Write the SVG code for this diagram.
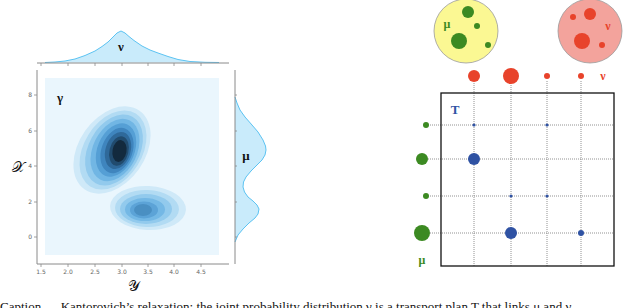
<svg xmlns="http://www.w3.org/2000/svg" width="640" height="308" viewBox="0 0 640 308">
<style>
.ax{stroke:#8a8a8a;stroke-width:1;fill:none}
.tk{stroke:#8a8a8a;stroke-width:0.8}
.tl{font-family:"DejaVu Sans",sans-serif;font-size:6px;fill:#666}
.marg{fill:#c9ebfb;stroke:#5cc3f2;stroke-width:1}
.lab{font-family:"Liberation Serif",serif;font-weight:bold;fill:#111}
.grid{stroke:#777;stroke-width:0.8;stroke-dasharray:1 1}
.g{fill:#3c8a22}
.r{fill:#e8432b}
.b{fill:#2f52a3}
.cap{font-family:"Liberation Serif",serif;font-size:13px;fill:#111}
</style>
<g id="left-plot">
  <g id="top-marginal">
    <path class="marg" d="M45,62.5 L55,62 L65,61 L75,59 L85,55.5 L95,51 L102,46.5 L108,42 L113,37 L117,33 L121,31 L125,33 L129,36.5 L134,40.5 L142,46 L150,50 L158,53 L168,56.5 L178,59.5 L190,61.5 L205,62.3 L219,62.5"/>
    <line class="ax" x1="37" y1="63" x2="229" y2="63"/>
    <g class="tk">
      <line x1="41" y1="63" x2="41" y2="66"/><line x1="68" y1="63" x2="68" y2="66"/><line x1="95" y1="63" x2="95" y2="66"/><line x1="122" y1="63" x2="122" y2="66"/><line x1="148" y1="63" x2="148" y2="66"/><line x1="174" y1="63" x2="174" y2="66"/><line x1="201" y1="63" x2="201" y2="66"/>
    </g>
    <text class="lab" x="121" y="51" font-size="13" text-anchor="middle">ν</text>
  </g>
  <g id="joint">
    <rect x="45" y="78" width="174" height="177" fill="#eaf6fd"/>
    <g id="blob-top">
      <ellipse cx="112" cy="150" rx="48" ry="33" transform="rotate(-55 112 150)" fill="#cfe9f8"/>
      <ellipse cx="113" cy="150" rx="43" ry="29" transform="rotate(-58 113 150)" fill="#b2dbf3"/>
      <ellipse cx="114" cy="150" rx="38" ry="25.5" transform="rotate(-61 114 150)" fill="#92caed"/>
      <ellipse cx="115" cy="150" rx="33" ry="22" transform="rotate(-64 115 150)" fill="#71b6e4"/>
      <ellipse cx="116" cy="150" rx="28" ry="18.5" transform="rotate(-67 116 150)" fill="#559fd5"/>
      <ellipse cx="117" cy="150.5" rx="23.5" ry="15.5" transform="rotate(-70 117 150.5)" fill="#3f85be"/>
      <ellipse cx="118" cy="150.5" rx="19" ry="12.5" transform="rotate(-73 118 150.5)" fill="#2f699a"/>
      <ellipse cx="119" cy="151" rx="15" ry="9.5" transform="rotate(-76 119 151)" fill="#214b6e"/>
      <ellipse cx="119.5" cy="151" rx="11" ry="7" transform="rotate(-80 119.5 151)" fill="#132a3e"/>
    </g>
    <g id="blob-bottom">
      <ellipse cx="148" cy="208" rx="38" ry="22" transform="rotate(3 148 208)" fill="#cfe9f8"/>
      <ellipse cx="147" cy="208.5" rx="32" ry="18.5" transform="rotate(2 147 208.5)" fill="#b2dbf3"/>
      <ellipse cx="146" cy="209" rx="26" ry="15" fill="#92caed"/>
      <ellipse cx="145" cy="209.5" rx="20" ry="11.5" fill="#74b8e5"/>
      <ellipse cx="144" cy="210" rx="14" ry="8.5" fill="#5ca3d7"/>
      <ellipse cx="143" cy="210" rx="9" ry="6" fill="#4a8fc2"/>
    </g>
    <text class="lab" x="60" y="102" font-size="13" text-anchor="middle">γ</text>
    <line class="ax" x1="37" y1="70" x2="37" y2="264"/>
    <line class="ax" x1="37" y1="264" x2="229" y2="264"/>
    <g class="tk">
      <line x1="34" y1="95" x2="37" y2="95"/><line x1="34" y1="131" x2="37" y2="131"/><line x1="34" y1="166" x2="37" y2="166"/><line x1="34" y1="202" x2="37" y2="202"/><line x1="34" y1="237" x2="37" y2="237"/>
      <line x1="41" y1="264" x2="41" y2="267"/><line x1="68" y1="264" x2="68" y2="267"/><line x1="95" y1="264" x2="95" y2="267"/><line x1="122" y1="264" x2="122" y2="267"/><line x1="148" y1="264" x2="148" y2="267"/><line x1="174" y1="264" x2="174" y2="267"/><line x1="201" y1="264" x2="201" y2="267"/>
    </g>
    <g class="tl" text-anchor="end">
      <text x="32" y="97">8</text><text x="32" y="133">6</text><text x="32" y="168">4</text><text x="32" y="204">2</text><text x="32" y="239">0</text>
    </g>
    <g class="tl" text-anchor="middle">
      <text x="41" y="274">1.5</text><text x="68" y="274">2.0</text><text x="95" y="274">2.5</text><text x="122" y="274">3.0</text><text x="148" y="274">3.5</text><text x="174" y="274">4.0</text><text x="201" y="274">4.5</text>
    </g>
    <text x="18" y="172" font-family="DejaVu Serif,serif" font-size="15" text-anchor="middle" fill="#111">𝒳</text>
    <text x="134" y="291" font-family="DejaVu Serif,serif" font-size="15" text-anchor="middle" fill="#111">𝒴</text>
  </g>
  <g id="right-marginal">
    <path class="marg" d="M235,97 L237,103 L240,110 L245,117 L252,125 L258,132 L263,140 L265.5,146 L266,150 L265,155 L262,160 L257,165 L251,171 L246,177 L243.5,182 L243,187 L244.5,192 L248,197 L253,201 L257,205 L259,209 L258,214 L255,218 L249,223 L243,229 L238,235 L235,242"/>
    <line class="ax" x1="235" y1="70" x2="235" y2="264"/>
    <g class="tk">
      <line x1="235" y1="95" x2="237" y2="95"/><line x1="235" y1="131" x2="237" y2="131"/><line x1="235" y1="166" x2="237" y2="166"/><line x1="235" y1="202" x2="237" y2="202"/><line x1="235" y1="237" x2="237" y2="237"/>
    </g>
    <text class="lab" x="246" y="160" font-size="13" text-anchor="middle">μ</text>
  </g>
</g>
<g id="mu-set">
  <circle cx="466" cy="31" r="32" fill="#fbf893" stroke="#9a9a9a" stroke-width="0.8"/>
  <circle class="g" cx="468" cy="12" r="6"/>
  <circle class="g" cx="477" cy="26" r="3"/>
  <circle class="g" cx="459" cy="41" r="8"/>
  <circle class="g" cx="488" cy="45" r="3"/>
  <text class="lab" x="447" y="28" font-size="12" text-anchor="middle" fill="#3c8a22" style="fill:#3c8a22">μ</text>
</g>
<g id="nu-set">
  <circle cx="590" cy="31" r="32" fill="#f3a39c" stroke="#9a9a9a" stroke-width="0.8"/>
  <circle class="r" cx="573" cy="17" r="3"/>
  <circle class="r" cx="590" cy="14" r="6"/>
  <circle class="r" cx="582" cy="41" r="8"/>
  <circle class="r" cx="602" cy="45" r="3"/>
  <text class="lab" x="608" y="30" font-size="12" text-anchor="middle" style="fill:#e8432b">ν</text>
</g>
<g id="connectors">
  <line class="grid" x1="474" y1="83" x2="474" y2="266"/>
  <line class="grid" x1="511" y1="85" x2="511" y2="266"/>
  <line class="grid" x1="547" y1="81" x2="547" y2="266"/>
  <line class="grid" x1="581" y1="81" x2="581" y2="266"/>
  <line class="grid" x1="430" y1="125" x2="614" y2="125"/>
  <line class="grid" x1="428" y1="159" x2="614" y2="159"/>
  <line class="grid" x1="430" y1="196" x2="614" y2="196"/>
  <line class="grid" x1="430" y1="233" x2="614" y2="233"/>
</g>
<g id="nu-row">
  <circle class="r" cx="474" cy="76" r="6"/>
  <circle class="r" cx="511" cy="76" r="8"/>
  <circle class="r" cx="547" cy="76" r="3"/>
  <circle class="r" cx="581" cy="76" r="3"/>
  <text class="lab" x="603" y="80" font-size="12" text-anchor="middle" style="fill:#e8432b">ν</text>
</g>
<g id="mu-col">
  <circle class="g" cx="426" cy="125" r="3"/>
  <circle class="g" cx="422" cy="159" r="6"/>
  <circle class="g" cx="426" cy="196" r="3"/>
  <circle class="g" cx="422" cy="233" r="8"/>
  <text class="lab" x="422" y="264" font-size="12" text-anchor="middle" style="fill:#3c8a22">μ</text>
</g>
<g id="plan-T">
  <rect x="441" y="93" width="173" height="173" fill="none" stroke="#111" stroke-width="1.3"/>
  <text class="lab" x="455" y="114" font-size="13" text-anchor="middle" style="fill:#2f52a3">T</text>
  <circle class="b" cx="474" cy="125" r="1.6"/>
  <circle class="b" cx="547" cy="125" r="1.6"/>
  <circle class="b" cx="474" cy="159" r="6"/>
  <circle class="b" cx="511" cy="196" r="1.6"/>
  <circle class="b" cx="547" cy="196" r="1.6"/>
  <circle class="b" cx="511" cy="233" r="6"/>
  <circle class="b" cx="581" cy="233" r="3"/>
</g>
<text class="cap" x="0" y="311">Caption — Kantorovich’s relaxation: the joint probability distribution γ is a transport plan T that links μ and ν.</text>
</svg>
